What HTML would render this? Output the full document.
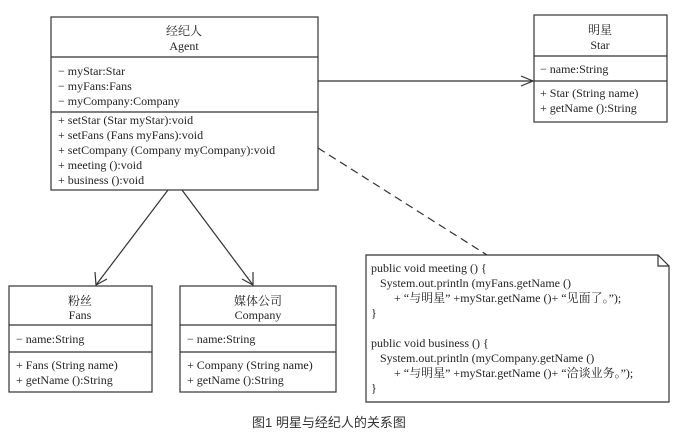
<!DOCTYPE html>
<html><head><meta charset="utf-8"><style>
html,body{margin:0;padding:0;background:#fff;}
svg{display:block;}
text{font-family:"Liberation Serif","Noto Serif CJK SC","Noto Sans CJK SC",serif;font-size:12px;fill:#222;}
.c{text-anchor:middle;}
.cap{font-family:"Liberation Sans","Noto Sans CJK SC",sans-serif;font-size:13px;fill:#333;}
</style></head><body>
<svg width="687" height="438" viewBox="0 0 687 438" xmlns="http://www.w3.org/2000/svg">
<g fill="none" stroke="#333" stroke-width="1.2">
<!-- Agent -->
<rect x="51" y="17" width="267" height="173"/>
<line x1="51" y1="57" x2="318" y2="57"/>
<line x1="51" y1="112" x2="318" y2="112"/>
<!-- Star -->
<rect x="534" y="15" width="133" height="107"/>
<line x1="534" y1="56" x2="667" y2="56"/>
<line x1="534" y1="81" x2="667" y2="81"/>
<!-- Fans -->
<rect x="9" y="286" width="143" height="106"/>
<line x1="9" y1="325" x2="152" y2="325"/>
<line x1="9" y1="352" x2="152" y2="352"/>
<!-- Company -->
<rect x="180" y="286" width="156" height="106"/>
<line x1="180" y1="325" x2="336" y2="325"/>
<line x1="180" y1="352" x2="336" y2="352"/>
<!-- note -->
<path d="M366 255 H658 L669 266 V402 H366 Z"/>
<path d="M658 255 V266 H669"/>
<!-- connectors -->
<line x1="318" y1="81" x2="533" y2="81"/>
<path d="M521 76 L533 81 L521 86"/>
<line x1="168" y1="190" x2="96" y2="285"/>
<path d="M95 272 L96 285 L107 279"/>
<line x1="182" y1="190" x2="253" y2="285"/>
<path d="M242 279 L253 285 L253 272"/>
<line x1="318" y1="148" x2="487" y2="255" stroke-dasharray="8,5"/>
</g>
<text class="c" x="184" y="35">经纪人</text>
<text class="c" x="184" y="50">Agent</text>
<text x="58" y="75">− myStar:Star</text>
<text x="58" y="90">− myFans:Fans</text>
<text x="58" y="105">− myCompany:Company</text>
<text x="58" y="124">+ setStar (Star myStar):void</text>
<text x="58" y="139">+ setFans (Fans myFans):void</text>
<text x="58" y="154">+ setCompany (Company myCompany):void</text>
<text x="58" y="169">+ meeting ():void</text>
<text x="58" y="184">+ business ():void</text>

<text class="c" x="600" y="34">明星</text>
<text class="c" x="600" y="49">Star</text>
<text x="540" y="73">− name:String</text>
<text x="540" y="97">+ Star (String name)</text>
<text x="540" y="112">+ getName ():String</text>

<text class="c" x="80" y="305">粉丝</text>
<text class="c" x="80" y="319">Fans</text>
<text x="16" y="343">− name:String</text>
<text x="16" y="369">+ Fans (String name)</text>
<text x="16" y="384">+ getName ():String</text>

<text class="c" x="258" y="305">媒体公司</text>
<text class="c" x="258" y="319">Company</text>
<text x="187" y="343">− name:String</text>
<text x="187" y="369">+ Company (String name)</text>
<text x="187" y="384">+ getName ():String</text>

<text x="371" y="272">public void meeting () {</text>
<text x="380" y="287">System.out.println (myFans.getName ()</text>
<text x="394" y="302">+ “与明星” +myStar.getName ()+ “见面了。”);</text>
<text x="371" y="317">}</text>
<text x="371" y="347">public void business () {</text>
<text x="380" y="362">System.out.println (myCompany.getName ()</text>
<text x="394" y="377">+ “与明星” +myStar.getName ()+ “洽谈业务。”);</text>
<text x="371" y="392">}</text>

<text class="cap" x="252" y="427">图1 明星与经纪人的关系图</text>
</svg>
</body></html>
